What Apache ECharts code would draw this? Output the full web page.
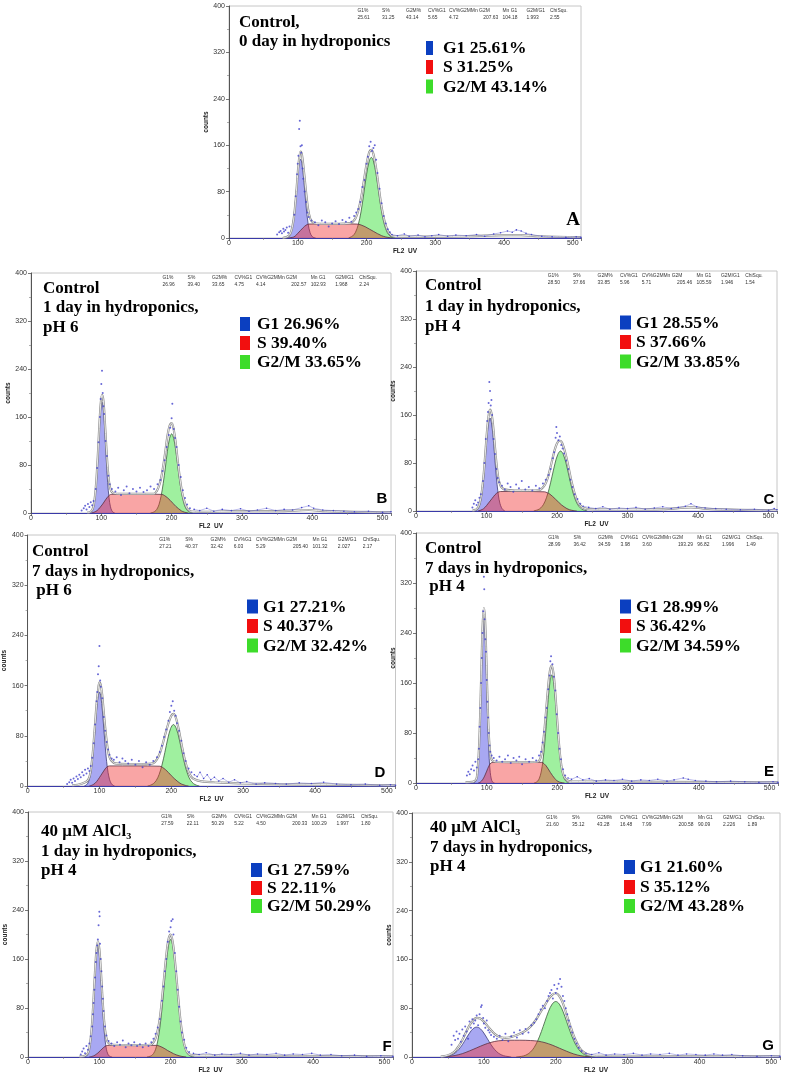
<!DOCTYPE html>
<html><head><meta charset="utf-8">
<script src="https://cdn.jsdelivr.net/npm/echarts@6/dist/echarts.min.js"></script>
<style>html,body{margin:0;padding:0;background:#fff}#c{width:788px;height:1078px}</style>
</head><body><div id="c"></div>
<script>
// ---------------- DATA (channel FL2 UV, counts) ----------------
const xTicks = [0, 100, 200, 300, 400, 500];
const yTicks = [0, 80, 160, 240, 320, 400];
const headerLabels = ['G1%', 'S%', 'G2M%', 'CV%G1', 'CV%G2MMn G2M', 'Mn G1', 'G2M/G1', 'ChiSqu.'];

// Panel A
const aG1 = [[82,0],[84,0.5],[87,2.4],[90,9],[93,25],[96,56],[99,96],[102,129],[104,136],[106,129],[109,96],[112,56],[115,25],[118,9],[121,2.4],[124,0.5],[126,0]];
const aS = [[86,0],[92,1],[96,3],[100,8],[104,13],[108,18],[112,22],[116,24],[150,24.5],[186,24],[192,22.5],[198,19.5],[204,15.5],[210,11.5],[216,7.5],[222,4],[228,1.8],[235,0.3],[238,0]];
const aG2 = [[174,0],[176,1.1],[180,3.6],[184,9.9],[188,23],[192,45],[196,76],[200,109],[204,133],[207,139],[210,133],[214,109],[218,76],[222,45],[226,23],[230,9.9],[234,3.6],[238,1.1],[242,0]];
const aFit = [[78,0],[82,1],[86,3],[89,7],[92,18],[95,41],[98,80],[101,125],[104,149],[106,144],[109,115],[112,80],[115,50],[118,34],[121,28],[126,25],[140,24.5],[160,24.5],[176,25.5],[180,28],[184,34],[188,47],[192,68],[196,97],[200,127],[204,148],[207,152],[210,145],[214,120],[218,86],[222,53],[226,30],[230,15],[234,7],[238,3.5],[245,2.5],[300,2.5],[350,3],[400,5],[425,5],[450,3],[512,1.5]];
const aDots = [[70,6],[73,10],[75,12],[77,8],[79,16],[80,11],[82,14],[84,18],[86,9],[88,20],[95,40],[97,72],[99,110],[100,128],[101,142],[102,188],[103,202],[104,158],[105,147],[106,160],[107,120],[108,102],[110,80],[112,62],[114,44],[116,36],[120,30],[125,27],[130,22],[135,30],[140,27],[145,20],[150,25],[155,29],[160,24],[165,31],[170,28],[175,35],[178,28],[182,38],[185,44],[188,50],[191,62],[194,88],[197,100],[200,128],[202,140],[204,158],[206,166],[208,150],[210,155],[212,160],[214,135],[216,112],[219,85],[222,60],[225,38],[228,25],[231,15],[234,10]];
const aTail = [[237,6],[245,4],[255,7],[262,3],[275,5],[285,2],[295,4],[305,6],[318,3],[330,5],[345,4],[360,6],[372,3],[385,7],[395,9],[405,12],[412,10],[418,14],[425,12],[432,8],[440,6],[455,3],[470,2],[490,1],[505,2],[512,1]];
const aStats = ['25.61','31.25','43.14','5.65','4.72','207.63','104.18','1.993','2.55'];
const aLegend = ['G1 25.61%', 'S 31.25%', 'G2/M 43.14%'];
const aTitle = ['Control,', '0 day in hydroponics'];

// Panel B
const bG1 = [[83,0],[85,1.1],[87,3.7],[89,10.4],[91,25],[93,51],[95,90],[97,134],[99,171],[101,185],[103,171],[105,134],[107,90],[109,51],[111,25],[113,10.4],[115,3.7],[117,1.1],[119,0]];
const bS = [[86,0],[90,1.5],[94,4],[98,9],[102,15],[106,22],[110,28],[114,31],[150,31.5],[186,31],[190,29],[194,25.5],[198,21],[202,16],[206,11],[210,7],[214,3.5],[218,1.5],[222,0.3],[224,0]];
const bG2 = [[170,0],[173,0.9],[176,2.5],[179,6.2],[182,14],[185,28],[188,49],[191,75],[194,103],[197,124],[200,132],[203,124],[206,103],[209,75],[212,49],[215,28],[218,14],[221,6.2],[224,2.5],[227,0.9],[230,0]];
const bFit = [[80,0.5],[84,1.5],[87,5],[89,12],[91,28],[93,55],[95,95],[97,141],[99,180],[101,197],[103,187],[105,153],[107,112],[109,76],[111,52],[113,40],[115,35],[118,33],[125,32],[150,32],[175,32],[179,37],[182,45],[185,58],[188,78],[191,102],[194,128],[197,145],[200,150],[203,139],[206,115],[209,84],[212,56],[215,34],[218,20],[221,10],[224,5],[228,2.5],[240,2],[300,3],[350,3],[395,5],[420,3],[512,1]];
const bDots = [[72,4],[75,8],[77,12],[79,6],[81,15],[83,10],[85,18],[87,13],[89,20],[92,40],[94,75],[96,118],[98,160],[99,190],[100,215],[101,237],[102,200],[103,178],[104,165],[106,120],[108,95],[110,62],[112,48],[115,40],[120,36],[124,42],[128,30],[132,38],[136,44],[140,33],[145,40],[150,36],[155,42],[160,35],[165,38],[170,44],[175,40],[180,48],[184,55],[187,70],[190,88],[193,110],[196,130],[198,142],[200,158],[201,182],[203,140],[205,125],[207,110],[210,80],[213,60],[216,38],[219,25],[222,14],[226,8]];
const bTail = [[232,6],[240,4],[250,8],[260,3],[272,6],[285,4],[298,7],[310,3],[322,5],[335,8],[348,4],[360,6],[372,5],[385,9],[395,12],[402,8],[415,5],[430,4],[445,3],[460,2],[480,3],[500,1],[512,2]];
const bStats = ['26.96','39.40','33.65','4.75','4.14','202.57','102.93','1.968','2.24'];
const bLegend = ['G1 26.96%', 'S 39.40%', 'G2/M 33.65%'];
const bTitle = ['Control', '1 day in hydroponics,', 'pH 6'];

// Panel C
const cG1 = [[84,0],[87,2.6],[89,6.2],[91,13],[93,25],[95,44],[97,69],[99,99],[101,127],[103,147],[105,155],[107,147],[109,127],[111,99],[113,69],[115,44],[117,25],[119,13],[121,6.2],[123,2.6],[126,0]];
const cS = [[88,0],[92,1.5],[96,4],[100,9],[104,15],[108,21],[112,27],[116,31],[120,32.5],[150,32.5],[182,32],[186,30.5],[190,28],[194,24],[198,19.5],[202,15],[206,10.5],[210,7],[214,4],[218,2],[224,0.5],[228,0]];
const cG2 = [[167,0],[169,0.75],[173,2.1],[177,5.2],[181,11.3],[185,22],[189,38],[193,58],[197,78.5],[201,94],[205,100],[209,94],[213,78.5],[217,58],[221,38],[225,22],[229,11.3],[233,5.2],[237,2.1],[241,0.75],[243,0]];
const cFit = [[80,0.5],[83,1.5],[86,3],[89,8],[91,16],[93,29],[95,49],[97,75],[99,107],[101,137],[103,159],[105,169],[107,163],[109,146],[111,120],[113,93],[115,70],[117,53],[119,45],[121,40],[125,36],[140,34],[160,34],[175,35],[179,38],[183,44],[187,56],[191,74],[195,94],[199,110],[203,117],[206,116],[209,108],[213,91],[217,69],[221,47],[225,29],[229,16],[233,9],[238,5],[245,3],[300,2.5],[350,3],[390,6],[420,3],[512,1]];
const cDots = [[80,6],[82,12],[84,18],[86,10],[88,14],[90,22],[92,28],[95,50],[97,80],[99,120],[101,150],[102,165],[103,180],[104,215],[105,200],[106,176],[107,185],[108,160],[110,120],[112,95],[114,70],[116,55],[118,48],[122,42],[126,36],[130,46],[134,40],[138,32],[142,44],[146,38],[150,50],[155,36],[160,40],[165,34],[170,42],[175,38],[180,46],[184,52],[188,60],[191,70],[194,88],[196,98],[198,122],[199,140],[200,130],[202,118],[204,124],[206,110],[208,104],[210,96],[213,84],[216,70],[219,52],[222,40],[225,28],[229,20],[233,12]];
const cTail = [[237,8],[245,6],[255,4],[265,7],[275,3],[288,5],[300,4],[312,6],[325,3],[338,5],[350,7],[362,4],[372,6],[382,8],[390,12],[398,7],[410,5],[425,4],[440,3],[460,2],[480,3],[500,1],[508,4],[512,2]];
const cStats = ['28.50','37.66','33.85','5.96','5.71','205.46','105.59','1.946','1.54'];
const cLegend = ['G1 28.55%', 'S 37.66%', 'G2/M 33.85%'];
const cTitle = ['Control', '1 day in hydroponics,', 'pH 4'];

// Panel D
const dG1 = [[79,0],[82,1.9],[84,4.8],[86,10.8],[88,21.6],[90,39],[92,63.5],[94,92.5],[96,121],[98,142],[100,150],[102,142],[104,121],[106,92.5],[108,63.5],[110,39],[112,21.6],[114,10.8],[116,4.8],[118,1.9],[121,0]];
const dS = [[86,0],[90,1.5],[94,4.5],[98,10],[102,17],[106,24],[110,30],[114,32],[150,32],[184,31.5],[188,29.5],[192,26],[196,21.5],[200,16.5],[204,12],[208,8],[212,4.5],[216,2.3],[220,0.8],[224,0]];
const dG2 = [[167,0],[171,1.3],[175,3.7],[179,8.7],[183,18.2],[187,33.3],[191,53.4],[195,74.9],[199,91.6],[203,98],[207,91.6],[211,74.9],[215,53.4],[219,33.3],[223,18.2],[227,8.7],[231,3.7],[235,1.3],[239,0]];
const dFit = [[62,1],[70,2],[76,4],[80,6],[83,8],[86,14],[88,25],[90,44],[92,70],[94,100],[96,130],[98,152],[100,165],[102,160],[104,143],[106,118],[108,93],[110,72],[112,56],[114,46],[117,40],[122,36],[140,35],[160,35],[175,36.5],[180,42.5],[184,52],[188,67],[192,84],[196,100],[200,112],[203,115],[206,110],[210,92],[214,68],[218,46],[222,29],[226,18],[230,12],[236,9],[245,7],[260,6],[280,5],[300,4],[350,3],[400,2.5],[512,1]];
const dDots = [[55,3],[58,6],[60,10],[62,5],[64,12],[66,8],[68,15],[70,11],[72,18],[74,14],[76,22],[78,17],[80,26],[82,20],[84,28],[86,24],[88,32],[90,45],[92,68],[94,98],[96,135],[97,150],[98,178],[99,191],[100,223],[101,168],[102,158],[104,140],[106,110],[108,88],[110,70],[112,58],[114,50],[117,44],[120,42],[124,46],[128,38],[132,44],[136,40],[140,36],[145,42],[150,34],[155,40],[160,30],[165,38],[170,34],[175,40],[180,46],[184,54],[187,64],[190,78],[193,90],[196,104],[198,118],[200,128],[202,135],[204,120],[206,112],[208,100],[211,88],[214,72],[217,52],[220,40],[224,28],[228,22]];
const dTail = [[232,18],[236,15],[240,22],[245,12],[250,18],[255,10],[260,14],[266,8],[272,12],[280,6],[288,10],[296,5],[305,7],[318,3],[330,5],[345,4],[360,3],[378,5],[395,4],[412,6],[430,3],[450,2],[470,3],[490,1],[505,2],[512,1]];
const dStats = ['27.21','40.37','32.42','6.03','5.29','205.40','101.32','2.027','2.17'];
const dLegend = ['G1 27.21%', 'S 40.37%', 'G2/M 32.42%'];
const dTitle = ['Control', '7 days in hydroponics,', ' pH 6'];

// Panel E
const eG1 = [[81,0],[82.5,0.6],[84,2],[85.5,6.4],[87,17.1],[88.5,39.6],[90,78.5],[91.5,133.8],[93,195.6],[94.5,245.6],[96,265],[97.5,245.6],[99,195.6],[100.5,133.8],[102,78.5],[103.5,39.6],[105,17.1],[106.5,6.4],[108,2],[109.5,0.6],[111,0]];
const eS = [[88,0],[91,1.5],[94,5],[97,11],[100,19],[103,27],[106,32],[109,33],[145,33],[178,33],[181,31],[184,27.5],[187,22.5],[190,17],[193,12],[196,7.5],[199,4],[203,1.5],[207,0.4],[210,0]];
const eG2 = [[167,0],[169.5,1],[172,2.9],[174.5,7.6],[177,17.4],[179.5,35.1],[182,62.3],[184.5,97.4],[187,134],[189.5,162],[192,173],[194.5,162],[197,134],[199.5,97.4],[202,62.3],[204.5,35.1],[207,17.4],[209.5,7.6],[212,2.9],[214.5,1],[217,0]];
const eFit = [[70,1],[80,2],[84,4],[86,9],[87,19],[88.5,42],[90,82],[91.5,140],[93,205],[94.5,258],[96,280],[97.5,265],[99,218],[100.5,158],[102,104],[103.5,67],[105,47],[106.5,39],[108,36],[112,34],[130,33.5],[160,33.5],[172,34],[175,37],[177,44],[179.5,62],[182,89],[184.5,122],[187,155],[189.5,180],[192,188],[194.5,175],[197,144],[199.5,104],[202,66],[204.5,37],[207,19],[210,9],[214,4],[220,2.5],[512,1]];
const eDots = [[72,12],[74,18],[76,14],[78,22],[80,28],[82,20],[84,34],[86,25],[88,38],[89,55],[90,90],[91,120],[92,160],[93,200],[94,240],[95,275],[96,330],[96.5,310],[97,262],[98,230],[99,210],[100,165],[101,130],[102,105],[103,80],[104,60],[105,50],[107,44],[110,40],[114,36],[118,42],[122,34],[126,38],[130,44],[134,32],[138,40],[142,36],[146,42],[150,30],[155,38],[160,34],[165,40],[170,36],[174,44],[177,50],[179,65],[181,82],[183,105],[185,120],[187,150],[189,172],[190,195],[191,203],[193,190],[195,170],[197,148],[199,110],[201,80],[203,55],[205,38],[208,22],[211,12]];
const eTail = [[215,8],[220,6],[228,10],[236,5],[245,7],[255,3],[268,5],[280,4],[292,6],[305,3],[318,5],[330,4],[342,6],[355,3],[365,5],[378,8],[385,6],[395,4],[410,3],[425,2],[445,3],[465,2],[485,1],[505,2],[512,1]];
const eStats = ['28.99','36.42','34.59','3.98','3.60','193.29','96.82','1.996','1.49'];
const eLegend = ['G1 28.99%', 'S 36.42%', 'G2/M 34.59%'];
const eTitle = ['Control', '7 days in hydroponics,', ' pH 4'];

// Panel F
const fG1 = [[78,0],[80,0.45],[82,1.6],[84,4.8],[86,12.6],[88,28.5],[90,55.4],[92,93],[94,134.6],[96,168],[98,181],[100,168],[102,134.6],[104,93],[106,55.4],[108,28.5],[110,12.6],[112,4.8],[114,1.6],[116,0.45],[118,0]];
const fS = [[86,0],[90,1],[94,3],[98,6.5],[102,11],[106,15.5],[110,18.5],[114,19],[150,19],[180,19],[184,18],[188,16],[192,13.5],[196,10.5],[200,8],[204,5.5],[208,3.5],[212,2],[216,0.9],[220,0.3],[222,0]];
const fG2 = [[167,0],[170,0.75],[173,2.1],[176,5.5],[179,12.6],[182,26],[185,47.9],[188,79],[191,116.5],[194,153.7],[197,181.6],[200,192],[203,181.6],[206,153.7],[209,116.5],[212,79],[215,47.9],[218,26],[221,12.6],[224,5.5],[227,2.1],[230,0.75],[233,0]];
const fFit = [[72,0.5],[76,1],[80,2],[84,6],[86,14],[88,31],[90,57],[92,96],[94,139],[96,174],[98,189],[100,177],[102,145],[104,105],[106,70],[108,45],[110,31],[112,24],[115,21],[120,20],[150,19.5],[172,20],[176,24],[179,31],[182,44],[185,64],[188,95],[191,131],[194,166],[197,192],[200,200],[203,188],[206,158],[209,120],[212,81],[215,49],[218,27],[221,13.5],[224,6.5],[228,3.5],[240,2.5],[512,1]];
const fDots = [[74,4],[76,9],[78,14],[80,6],[82,18],[84,12],[86,22],[88,34],[90,50],[91,70],[92,88],[93,110],[94,130],[95,155],[96,170],[97,182],[98,192],[99,215],[100,237],[100.5,230],[101,185],[102,160],[103,140],[104,115],[105,95],[106,75],[108,50],[110,35],[113,26],[117,22],[121,18],[125,24],[129,20],[133,27],[137,16],[141,22],[145,19],[149,24],[153,18],[157,21],[161,16],[165,22],[169,18],[173,24],[176,30],[179,38],[182,48],[185,62],[188,92],[190,115],[192,140],[194,160],[196,188],[198,205],[200,212],[201,222],[203,225],[204,200],[206,170],[208,140],[210,110],[212,82],[214,58],[216,40],[219,28],[222,15],[226,8]];
const fTail = [[232,6],[240,4],[250,7],[262,3],[272,5],[285,4],[298,6],[310,3],[322,5],[335,4],[348,6],[360,3],[372,5],[385,4],[398,6],[410,3],[425,4],[440,2],[458,3],[475,1],[495,2],[512,1]];
const fStats = ['27.59','22.11','50.29','5.22','4.50','200.33','100.29','1.997','1.80'];
const fLegend = ['G1 27.59%', 'S 22.11%', 'G2/M 50.29%'];
const fTitle = ['40 μM AlCl₃', '1 day in hydroponics,', 'pH 4'];

// Panel G
const gG1 = [[42,0],[45,0.5],[50,1.4],[55,3.2],[60,6.6],[65,12.2],[70,20.1],[75,29.7],[80,39.2],[85,46.4],[90,49],[95,46.4],[100,39.2],[105,29.7],[110,20.1],[115,12.2],[120,6.6],[125,3.2],[130,1.4],[135,0.5],[138,0]];
const gS = [[44,0],[50,0.8],[60,2.5],[70,5.5],[80,10],[90,15],[100,20],[110,24],[120,26.5],[135,27.5],[150,27.5],[165,27],[175,26],[185,23.5],[195,19.5],[205,14.5],[215,9.5],[225,5],[235,2],[245,0.5],[250,0]];
const gG2 = [[145,0],[150,0.7],[155,1.7],[160,4],[165,8.3],[170,15.7],[175,26.9],[180,41.7],[185,58.6],[190,74.9],[195,86.7],[200,91],[205,86.7],[210,74.9],[215,58.6],[220,41.7],[225,26.9],[230,15.7],[235,8.3],[240,4],[245,1.7],[250,0.7],[255,0]];
const gFit = [[40,0.5],[45,1.5],[50,3],[55,5.5],[60,10],[65,18],[70,28],[75,40],[80,52],[85,60],[90,64],[95,63],[100,58],[105,51],[110,44],[115,38],[120,34],[125,32],[130,31.5],[135,32],[140,33.5],[145,35.5],[150,38],[155,41],[160,45],[165,50],[170,57],[175,66],[180,76],[185,85],[190,95],[195,102],[200,104.5],[205,100],[210,88],[215,70],[220,52],[225,35],[230,22],[235,12],[240,7],[245,4],[250,2.5],[260,2],[512,1]];
const gDots = [[55,20],[58,35],[60,28],[62,42],[64,30],[66,38],[68,25],[70,45],[72,35],[74,50],[76,42],[78,30],[80,58],[82,48],[84,62],[86,55],[88,60],[90,68],[92,52],[94,70],[96,82],[97,85],[99,64],[100,55],[102,48],[104,60],[106,44],[108,40],[110,36],[114,33],[118,30],[122,35],[126,28],[130,38],[134,26],[138,34],[142,40],[146,32],[150,44],[154,38],[158,46],[162,40],[166,52],[170,56],[173,62],[176,70],[179,78],[182,84],[185,80],[188,92],[190,100],[192,105],[194,110],[196,96],[198,118],[200,105],[202,112],[204,120],[206,128],[208,115],[210,100],[212,92],[214,80],[216,70],[218,60],[220,50],[223,40],[226,30],[229,22],[232,15],[236,10]];
const gTail = [[242,6],[250,4],[260,7],[270,3],[282,5],[295,4],[308,6],[320,3],[332,5],[345,4],[358,6],[370,3],[382,5],[395,4],[408,3],[420,5],[432,3],[445,4],[460,2],[480,1],[500,2],[512,1]];
const gStats = ['21.60','35.12','43.28','16.48','7.99','200.58','90.09','2.226','1.89'];
const gLegend = ['G1 21.60%', 'S 35.12%', 'G2/M 43.28%'];
const gTitle = ['40 μM AlCl₃', '7 days in hydroponics,', 'pH 4'];

const panelLetters = ['A', 'B', 'C', 'D', 'E', 'F', 'G'];

// ---------------- LAYOUT (pixel positions) ----------------
const layouts = [
  {left:229, top:6, width:352, height:232, ng:8.5, tx:239, ty:[23,42], sx:426, sw:7, ltx:443, ly:[48,67,86.5], letter:[573,220]},
  {left:31, top:273, width:360, height:240, ng:15, tx:43, ty:[289,308,328], sx:240, sw:10, ltx:257, ly:[324,343,362], letter:[382,499]},
  {left:416, top:271, width:361, height:240, ng:10.5, tx:425, ty:[286,307,327], sx:620, sw:11, ltx:636, ly:[322.5,342,361.5], letter:[769,500]},
  {left:23.5, top:535, width:372, height:251, ng:10, tx:32, ty:[552,572,591], sx:247, sw:11, ltx:263, ly:[606.5,626,645.5], letter:[380,773]},
  {left:416, top:533, width:362, height:250, ng:10.5, tx:425, ty:[549,569,587], sx:620, sw:11, ltx:636, ly:[606.5,626,645.5], letter:[769,772]},
  {left:28, top:812, width:365, height:245, ng:13.5, tx:41, ty:[832,852,871], sx:251, sw:11, ltx:267, ly:[870,888,906], letter:[387,1047]},
  {left:412, top:813, width:368, height:244, ng:11.5, tx:430, ty:[828,848,867], sx:624, sw:11, ltx:640, ly:[867,887,906], letter:[768,1046]}
];
const hdrFrac = [0.365, 0.435, 0.503, 0.565, 0.625, 0.777, 0.845, 0.912];
const valFrac = [0.365, 0.435, 0.503, 0.565, 0.625, 0.765, 0.777, 0.845, 0.912];

const panels = [
  {g1:aG1, s:aS, g2:aG2, fit:aFit, dots:aDots, tail:aTail, stats:aStats, legend:aLegend, title:aTitle},
  {g1:bG1, s:bS, g2:bG2, fit:bFit, dots:bDots, tail:bTail, stats:bStats, legend:bLegend, title:bTitle},
  {g1:cG1, s:cS, g2:cG2, fit:cFit, dots:cDots, tail:cTail, stats:cStats, legend:cLegend, title:cTitle},
  {g1:dG1, s:dS, g2:dG2, fit:dFit, dots:dDots, tail:dTail, stats:dStats, legend:dLegend, title:dTitle},
  {g1:eG1, s:eS, g2:eG2, fit:eFit, dots:eDots, tail:eTail, stats:eStats, legend:eLegend, title:eTitle},
  {g1:fG1, s:fS, g2:fG2, fit:fFit, dots:fDots, tail:fTail, stats:fStats, legend:fLegend, title:fTitle},
  {g1:gG1, s:gS, g2:gG2, fit:gFit, dots:gDots, tail:gTail, stats:gStats, legend:gLegend, title:gTitle}
];

// ---------------- BUILD ----------------
const SERIF = '"Liberation Serif","Times New Roman",serif';
const SANS = '"Liberation Sans",Arial,sans-serif';
const legendColors = ['#0b3fc0', '#f20f0f', '#3ddc2a'];

function T(x, y, text, font, align, fill, sx) {
  return {type:'text', x:x, y:y, z:100, silent:true, scaleX:sx || 1,
    style:{text:text, font:font, fill:fill || '#000', textAlign:align || 'left', textVerticalAlign:'middle',
      align:align || 'left', verticalAlign:'middle'}};
}

const grids = [], xAxes = [], yAxes = [], series = [], graphics = [];
layouts.forEach(function (L, i) {
  const P = panels[i];
  grids.push({left:L.left, top:L.top, width:L.width, height:L.height, show:true,
    borderColor:'#c6c6c6', borderWidth:1, backgroundColor:'transparent'});
  xAxes.push({gridIndex:i, type:'value', min:xTicks[0], max:512, interval:xTicks[1] - xTicks[0],
    name:'FL2  UV', nameLocation:'middle', nameGap:9,
    nameTextStyle:{fontSize:6.5, fontWeight:'bold', fontFamily:SANS, color:'#222'},
    axisLine:{lineStyle:{color:'#3a3aa8', width:1.2}},
    axisTick:{length:3, lineStyle:{color:'#555', width:0.8}},
    minorTick:{show:true, splitNumber:2, length:2, lineStyle:{color:'#777', width:0.6}},
    axisLabel:{fontSize:7, margin:2, color:'#333', fontFamily:SANS,
      formatter:function (v) { return xTicks.indexOf(v) >= 0 ? String(v) : ''; }},
    splitLine:{show:false}});
  yAxes.push({gridIndex:i, type:'value', min:yTicks[0], max:yTicks[yTicks.length - 1], interval:yTicks[1] - yTicks[0],
    name:'counts', nameLocation:'middle', nameGap:L.ng, nameRotate:90,
    nameTextStyle:{fontSize:6.5, fontWeight:'bold', fontFamily:SANS, color:'#222'},
    axisLine:{show:true, lineStyle:{color:'#555', width:1}},
    axisTick:{show:true, length:3, lineStyle:{color:'#555', width:0.8}},
    minorTick:{show:true, splitNumber:2, length:2, lineStyle:{color:'#777', width:0.6}},
    axisLabel:{fontSize:7, margin:4, color:'#333', fontFamily:SANS},
    splitLine:{show:false}});

  const base = {type:'line', xAxisIndex:i, yAxisIndex:i, symbol:'none', silent:true, animation:false, smooth:0.35};
  series.push(Object.assign({}, base, {data:P.g2, z:2, lineStyle:{color:'#3f5a3f', width:0.8},
    areaStyle:{color:'rgba(40,222,40,0.64)'}}));
  series.push(Object.assign({}, base, {data:P.g1, z:3, lineStyle:{color:'#3c3c78', width:0.8},
    areaStyle:{color:'rgba(60,60,225,0.64)'}}));
  series.push(Object.assign({}, base, {data:P.s, z:4, lineStyle:{color:'#5a2f40', width:0.8},
    areaStyle:{color:'rgba(240,40,40,0.6)'}}));
  series.push(Object.assign({}, base, {data:P.fit, z:5, lineStyle:{color:'#8c8c8c', width:2.2}}));
  series.push(Object.assign({}, base, {data:P.fit, z:6, lineStyle:{color:'#ffffff', width:0.8}}));
  series.push(Object.assign({}, base, {data:P.tail, z:6, smooth:false, symbol:'circle', symbolSize:1.6, showSymbol:true,
    itemStyle:{color:'#4444cc'}, lineStyle:{color:'rgba(70,70,200,0.5)', width:0.7}}));
  series.push({type:'scatter', xAxisIndex:i, yAxisIndex:i, data:P.dots, symbolSize:2, silent:true, animation:false,
    itemStyle:{color:'#4141cc'}, z:7});

  // header statistics
  const hy1 = L.top + 4.5, hy2 = L.top + 11;
  headerLabels.forEach(function (h, k) {
    graphics.push(T(L.left + hdrFrac[k] * L.width, hy1, h, '6px ' + SANS, 'left', '#333', 0.82));
  });
  P.stats.forEach(function (v, k) {
    graphics.push(T(L.left + valFrac[k] * L.width, hy2, v, '6px ' + SANS, k === 5 ? 'right' : 'left', '#333', 0.82));
  });
  // title lines
  P.title.forEach(function (t, k) {
    graphics.push(T(L.tx, L.ty[k], t, 'bold 17px ' + SERIF, 'left'));
  });
  // legend
  P.legend.forEach(function (t, k) {
    graphics.push({type:'rect', z:100, silent:true, shape:{x:L.sx, y:L.ly[k] - 7, width:L.sw, height:14},
      style:{fill:legendColors[k]}});
    graphics.push(T(L.ltx, L.ly[k] + 0.5, t, 'bold 17.5px ' + SERIF, 'left'));
  });
  // panel letter
  graphics.push(T(L.letter[0], L.letter[1], panelLetters[i],
    i === 0 ? 'bold 19px ' + SERIF : 'bold 15px ' + SANS, 'center'));
});

const chart = echarts.init(document.getElementById('c'), null, {renderer:'canvas'});
chart.setOption({
  animation:false,
  backgroundColor:'#ffffff',
  grid:grids, xAxis:xAxes, yAxis:yAxes, series:series,
  graphic:{elements:graphics}
});
</script></body></html>
